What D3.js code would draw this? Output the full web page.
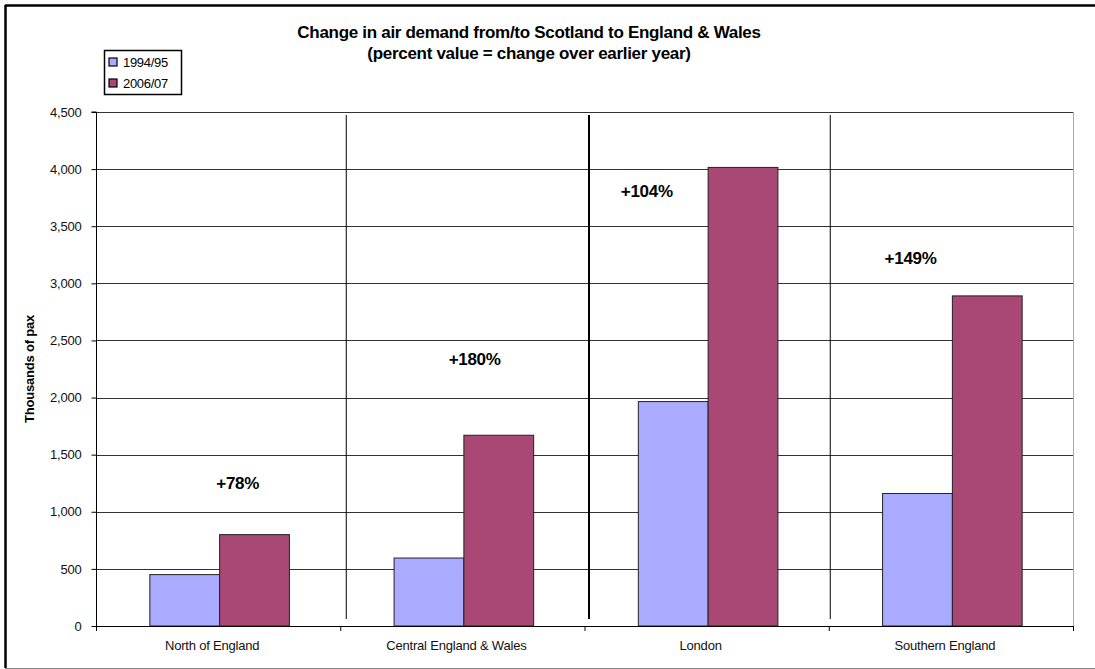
<!DOCTYPE html>
<html>
<head>
<meta charset="utf-8">
<script src="https://cdn.jsdelivr.net/npm/d3@7"></script>
<style>
  html, body { margin: 0; padding: 0; background: #fff; }
  svg { display: block; font-family: "Liberation Sans", Arial, sans-serif; }
</style>
</head>
<body>
<svg id="chart" width="1095" height="669"></svg>
<script>
// Air passengers between Scotland and England & Wales, thousands
const regions = ["North of England", "Central England & Wales", "London", "Southern England"];
const seriesNames = ["1994/95", "2006/07"];
const pax1994 = [450, 595, 1965, 1160];
const pax2006 = [800, 1670, 4015, 2890];
const changeLabels = ["+78%", "+180%", "+104%", "+149%"];
const yTicks = [0, 500, 1000, 1500, 2000, 2500, 3000, 3500, 4000, 4500];

const colors = ["#AAAAFF", "#A94874"];
const W = 1095, H = 669;
const plot = { left: 96, right: 1073, top: 112, bottom: 626 };

const svg = d3.select("#chart");

// outer frame
svg.append("line").attr("x1", 5).attr("x2", W).attr("y1", 5.5).attr("y2", 5.5)
  .attr("stroke", "#000").attr("stroke-width", 2.5);
svg.append("line").attr("x1", 5.5).attr("x2", 5.5).attr("y1", 5).attr("y2", 668)
  .attr("stroke", "#000").attr("stroke-width", 2.5);
svg.append("line").attr("x1", 5).attr("x2", W).attr("y1", 668.5).attr("y2", 668.5)
  .attr("stroke", "#888").attr("stroke-width", 1);

const x = d3.scaleBand().domain(regions).range([plot.left, plot.right]).paddingInner(0).paddingOuter(0);
const xs = d3.scaleBand().domain(seriesNames).range([1.5, x.bandwidth() + 1.5]).paddingInner(0).paddingOuter(0.75);
const y = d3.scaleLinear().domain([0, 4500]).range([plot.bottom, plot.top]);

// plot area right edge
svg.append("line").attr("x1", plot.right + 0.5).attr("x2", plot.right + 0.5)
  .attr("y1", plot.top).attr("y2", plot.bottom)
  .attr("stroke", "#aaa").attr("stroke-width", 1);

// horizontal gridlines
svg.append("g").selectAll("line").data(yTicks.filter(d => d > 0)).join("line")
  .attr("x1", plot.left).attr("x2", plot.right)
  .attr("y1", d => Math.round(y(d)) + 0.5).attr("y2", d => Math.round(y(d)) + 0.5)
  .attr("stroke", "#333").attr("stroke-width", 1);

// region separators
const sepOffsets = [6, 4.5, 1.5];
const sepWidths = [1, 2, 1];
svg.append("g").selectAll("line").data(regions.slice(1)).join("line")
  .attr("x1", (d, i) => x(d) + sepOffsets[i]).attr("x2", (d, i) => x(d) + sepOffsets[i])
  .attr("y1", plot.top + 3).attr("y2", plot.bottom - 7)
  .attr("stroke", "#000").attr("stroke-width", (d, i) => sepWidths[i]);

// bars
const rows = regions.map((r, i) => ({ region: r, values: [pax1994[i], pax2006[i]] }));
const groups = svg.append("g").selectAll("g").data(rows).join("g")
  .attr("transform", d => `translate(${x(d.region)},0)`);
groups.selectAll("rect").data(d => d.values.map((v, j) => ({ series: seriesNames[j], v, j }))).join("rect")
  .attr("x", d => xs(d.series))
  .attr("width", xs.bandwidth())
  .attr("y", d => y(d.v))
  .attr("height", d => y(0) - y(d.v))
  .attr("fill", d => colors[d.j])
  .attr("stroke", "#222").attr("stroke-width", 1);

// y axis
const yAxis = d3.axisLeft(y).tickValues(yTicks).tickSize(5).tickPadding(10)
  .tickFormat(d3.format(","));
const gy = svg.append("g").attr("transform", `translate(${plot.left + 0.5},0)`).call(yAxis);
gy.select(".domain").attr("stroke", "#000").attr("d", `M-5,${plot.top}H0V${plot.bottom}`);
gy.selectAll(".tick line").attr("stroke", "#000");
gy.selectAll(".tick text").attr("font-size", 13).attr("fill", "#111")
  .attr("font-family", "Liberation Sans, Arial, sans-serif").attr("letter-spacing", -0.2);

// x axis
const xAxis = d3.axisBottom(x).tickSize(0).tickPadding(14);
const gx = svg.append("g").attr("transform", `translate(0,${plot.bottom + 0.5})`).call(xAxis);
gx.select(".domain").attr("stroke", "#000").attr("d", `M${plot.left},0H${plot.right}`);
gx.selectAll(".tick text").attr("font-size", 13).attr("fill", "#111")
  .attr("font-family", "Liberation Sans, Arial, sans-serif").attr("letter-spacing", -0.2)
  .attr("dx", -6);
svg.append("g").selectAll("line").data(regions.map(r => x(r)).concat([plot.right])).join("line")
  .attr("x1", d => d + 0.5).attr("x2", d => d + 0.5)
  .attr("y1", plot.bottom).attr("y2", plot.bottom + 5)
  .attr("stroke", "#000").attr("stroke-width", 1);

// y axis title
svg.append("text")
  .attr("transform", `translate(34,${(plot.top + plot.bottom) / 2}) rotate(-90)`)
  .attr("text-anchor", "middle").attr("font-size", 13).attr("font-weight", "bold")
  .attr("letter-spacing", -0.2)
  .text("Thousands of pax");

// chart title
const title = svg.append("text").attr("text-anchor", "middle").attr("font-weight", "bold")
  .attr("font-size", 17).attr("letter-spacing", -0.3);
title.append("tspan").attr("x", 529).attr("y", 38).text("Change in air demand from/to Scotland to England & Wales");
title.append("tspan").attr("x", 529).attr("y", 59).text("(percent value = change over earlier year)");

// percentage change notes
const notePlace = [{ f: 0.58, v: 1252 }, { f: 0.55, v: 2338 }, { f: 0.255, v: 3808 }, { f: 0.335, v: 3222 }];
svg.append("g").selectAll("text").data(changeLabels).join("text")
  .attr("x", (d, i) => x(regions[i]) + notePlace[i].f * x.bandwidth())
  .attr("y", (d, i) => y(notePlace[i].v) + 6)
  .attr("text-anchor", "middle").attr("font-size", 17).attr("font-weight", "bold")
  .attr("letter-spacing", -0.3)
  .text(d => d);

// legend
const lg = svg.append("g").attr("transform", "translate(104,50)");
lg.append("rect").attr("x", 0.5).attr("y", 0.5).attr("width", 77).attr("height", 44)
  .attr("fill", "#fff").attr("stroke", "#000").attr("stroke-width", 1.5);
const items = lg.selectAll("g").data(seriesNames).join("g")
  .attr("transform", (d, i) => `translate(0,${12 + i * 21})`);
items.append("rect").attr("x", 5).attr("y", -4).attr("width", 8).attr("height", 8)
  .attr("fill", (d, i) => colors[i]).attr("stroke", "#000").attr("stroke-width", 1.2);
items.append("text").attr("x", 19).attr("y", 5).attr("font-size", 13)
  .attr("letter-spacing", -0.3).text(d => d);
</script>
</body>
</html>
